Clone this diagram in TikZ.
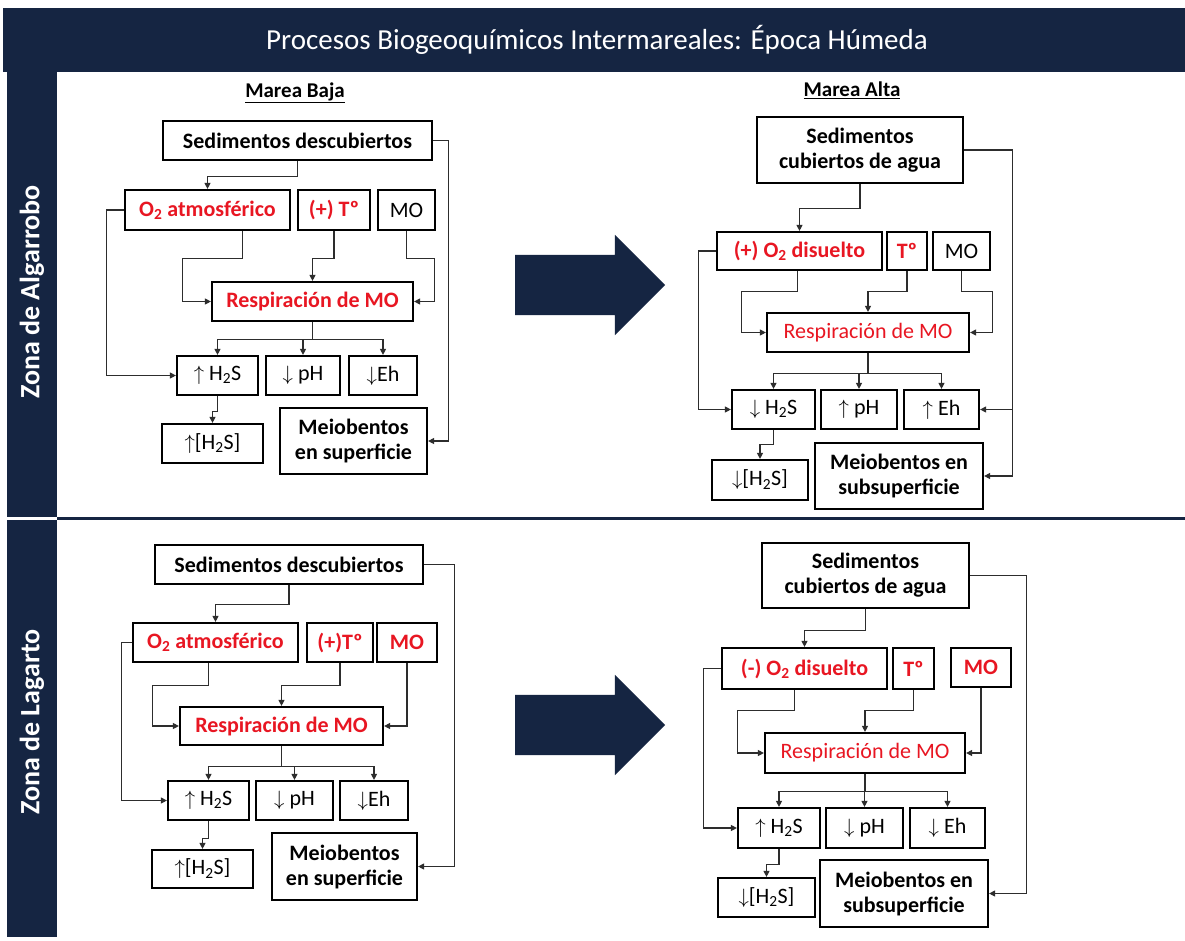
\documentclass[tikz,border=0pt]{standalone}
\usepackage{fontspec}
\setmainfont{Carlito}
\usetikzlibrary{arrows.meta,shapes.arrows}
\definecolor{navy}{RGB}{21,37,66}
\definecolor{alert}{RGB}{232,22,34}
\definecolor{linkgray}{RGB}{45,45,45}

\begin{document}
\begin{tikzpicture}[x=1pt,y=-1pt,
  boxplain/.style={rectangle,draw=black,line width=2.2pt,fill=white,inner sep=1pt,align=center,font=\fontsize{22}{25}\selectfont},
  boxbold/.style={boxplain,font=\fontsize{22}{25}\selectfont\bfseries},
  boxred/.style={boxbold,text=alert},
  boxredlight/.style={boxplain,text=alert},
  tidehead/.style={font=\fontsize{21}{24}\selectfont\bfseries},
  zonetext/.style={rotate=90,text=white,font=\fontsize{28}{30}\selectfont\bfseries},
  bigarrow/.style={single arrow,fill=navy,draw=none,inner xsep=0pt,inner ysep=30pt,minimum height=150pt,minimum width=100pt,single arrow head extend=20pt},
  link/.style={draw=linkgray,line width=1.1pt,-{Triangle[length=6pt,width=6pt]}}
]
\useasboundingbox (0,0) rectangle (1185,940);
\fill[white] (0,0) rectangle (1185,940);
\fill[navy] (3,8) rectangle (1185,72);
\fill[navy] (7,72) rectangle (57,517);
\fill[navy] (7,520) rectangle (57,937);
\draw[navy,line width=3pt] (57,518) -- (1185,518);
\node[text=white,font=\fontsize{29}{32}\selectfont] (title) at (597,40) {Procesos Biogeoquímicos Intermareales: Época Húmeda};
\node[zonetext] (zoneAlg) at (32,292) {Zona de Algarrobo};
\node[zonetext] (zoneLag) at (32,722) {Zona de Lagarto};
\node[tidehead] (headBaja) at (295,93) {\underline{Marea Baja}};
\node[tidehead] (headAlta) at (852,90) {\underline{Marea Alta}};
\node[bigarrow] (shiftAlg) at (575,285) {};
\node[bigarrow] (shiftLag) at (575,725) {};

\node[boxbold,minimum width=269,minimum height=39] (abSed) at (297.5,140.5) {Sedimentos descubiertos};
\node[boxred,minimum width=165,minimum height=40] (abO2) at (207.5,210) {O\textsubscript{2} atmosférico};
\node[boxred,minimum width=72,minimum height=40] (abT) at (334,210) {(+) Tº};
\node[boxplain,minimum width=57,minimum height=40] (abMO) at (406.5,210) {MO};
\node[boxred,minimum width=201,minimum height=39] (abResp) at (312.5,301.5) {Respiración de MO};
\node[boxplain,minimum width=81,minimum height=39] (abH2S) at (217.5,375.5) {$\uparrow$ H\textsubscript{2}S};
\node[boxplain,minimum width=74,minimum height=39] (abPH) at (303,375.5) {$\downarrow$ pH};
\node[boxplain,minimum width=68,minimum height=39] (abEh) at (383,375.5) {$\downarrow$Eh};
\node[boxplain,minimum width=101,minimum height=39] (abCH) at (212.5,443.5) {$\uparrow$[H\textsubscript{2}S]};
\node[boxbold,minimum width=147,minimum height=66] (abMeio) at (353.5,441) {Meiobentos\\en superficie};
\draw[link] (abSed.south) -- ++(0,15) -| (abO2.north);
\draw[link] (abSed.east) -- ++(15,0) |- (abMeio.east);
\draw[link] (abO2.west) -- ++(-17,0) |- (abH2S.west);
\draw[link] ([xshift=35pt]abO2.south) -- ++(0,27) -- ++(-60,0) |- (abResp.west);
\draw[link] (abT.south) -- ++(0,27) -| (abResp.north);
\draw[link] (abMO.south) -- ++(0,27) -- ++(28,0) |- (abResp.east);
\draw[link] (abResp.south) -- ++(0,17) coordinate (abFan) -| (abH2S.north);
\draw[link] (abFan) -| (abPH.north);
\draw[link] (abFan) -| (abEh.north);
\draw[link] (abH2S.south) -- ++(0,15) -| (abCH.north);

\node[boxbold,minimum width=206,minimum height=66] (aaSed) at (860,150) {Sedimentos\\cubiertos de agua};
\node[boxred,minimum width=165,minimum height=38] (aaO2) at (799.5,251) {(+) O\textsubscript{2} disuelto};
\node[boxred,minimum width=40,minimum height=38] (aaT) at (907,251) {Tº};
\node[boxplain,minimum width=57,minimum height=38] (aaMO) at (961.5,251) {MO};
\node[boxredlight,minimum width=202,minimum height=39] (aaResp) at (868,332.5) {Respiración de MO};
\node[boxplain,minimum width=83,minimum height=39] (aaH2S) at (773.5,409.5) {$\downarrow$ H\textsubscript{2}S};
\node[boxplain,minimum width=76,minimum height=39] (aaPH) at (859,409.5) {$\uparrow$ pH};
\node[boxplain,minimum width=75,minimum height=39] (aaEh) at (941.5,409.5) {$\uparrow$ Eh};
\node[boxplain,minimum width=96,minimum height=40] (aaCH) at (760,480) {$\downarrow$[H\textsubscript{2}S]};
\node[boxbold,minimum width=168,minimum height=66] (aaMeio) at (899,476) {Meiobentos en\\subsuperficie};
\draw[link] (aaSed.south) -- ++(0,24) -| (aaO2.north);
\draw[link] (aaSed.east) -- ++(48,0) coordinate (aaRight) |- (aaMeio.east);
\draw[link] (aaRight) |- (aaEh.east);
\draw[link] (aaO2.west) -- ++(-17,0) |- (aaH2S.west);
\draw[link] ([xshift=-2pt]aaO2.south) -- ++(0,20) -- ++(-56,0) |- (aaResp.west);
\draw[link] (aaT.south) -- ++(0,20) -| (aaResp.north);
\draw[link] (aaMO.south) -- ++(0,20) -- ++(31,0) |- (aaResp.east);
\draw[link] (aaResp.south) -- ++(0,20) coordinate (aaFan) -| (aaH2S.north);
\draw[link] (aaFan) -| (aaPH.north);
\draw[link] (aaFan) -| (aaEh.north);
\draw[link] (aaH2S.south) -- ++(0,14) -| (aaCH.north);

\node[boxbold,minimum width=268,minimum height=39] (lbSed) at (289,564.5) {Sedimentos descubiertos};
\node[boxred,minimum width=165,minimum height=39] (lbO2) at (215.5,642.5) {O\textsubscript{2} atmosférico};
\node[boxred,minimum width=66,minimum height=39] (lbT) at (340,642.5) {(+)Tº};
\node[boxred,minimum width=60,minimum height=39] (lbMO) at (407,642.5) {MO};
\node[boxred,minimum width=203,minimum height=38] (lbResp) at (281.5,726) {Respiración de MO};
\node[boxplain,minimum width=81,minimum height=39] (lbH2S) at (208.5,800.5) {$\uparrow$ H\textsubscript{2}S};
\node[boxplain,minimum width=77,minimum height=39] (lbPH) at (294.5,800.5) {$\downarrow$ pH};
\node[boxplain,minimum width=68,minimum height=39] (lbEh) at (374,800.5) {$\downarrow$Eh};
\node[boxplain,minimum width=101,minimum height=38] (lbCH) at (202.5,869) {$\uparrow$[H\textsubscript{2}S]};
\node[boxbold,minimum width=145,minimum height=67] (lbMeio) at (344.5,866.5) {Meiobentos\\en superficie};
\draw[link] (lbSed.south) -- ++(0,19) -| (lbO2.north);
\draw[link] (lbSed.east) -- ++(30,0) |- (lbMeio.east);
\draw[link] (lbO2.west) -- ++(-10,0) |- (lbH2S.west);
\draw[link] ([xshift=-7pt]lbO2.south) -- ++(0,22) -- ++(-56,0) |- (lbResp.west);
\draw[link] (lbT.south) -- ++(0,22) -| (lbResp.north);
\draw[link] (lbMO.south) |- (lbResp.east);
\draw[link] (lbResp.south) -- ++(0,20) coordinate (lbFan) -| (lbH2S.north);
\draw[link] (lbFan) -| (lbPH.north);
\draw[link] (lbFan) -| (lbEh.north);
\draw[link] (lbH2S.south) -- ++(0,17) -| (lbCH.north);

\node[boxbold,minimum width=207,minimum height=65] (laSed) at (865.5,575.5) {Sedimentos\\cubiertos de agua};
\node[boxred,minimum width=165,minimum height=41] (laO2) at (804.5,668.5) {(-) O\textsubscript{2} disuelto};
\node[boxred,minimum width=41,minimum height=41] (laT) at (913.5,668.5) {Tº};
\node[boxred,minimum width=60,minimum height=39] (laMO) at (981,667.5) {MO};
\node[boxredlight,minimum width=200,minimum height=40] (laResp) at (865,753) {Respiración de MO};
\node[boxplain,minimum width=82,minimum height=40] (laH2S) at (779,828) {$\uparrow$ H\textsubscript{2}S};
\node[boxplain,minimum width=77,minimum height=40] (laPH) at (864.5,828) {$\downarrow$ pH};
\node[boxplain,minimum width=75,minimum height=40] (laEh) at (947.5,828) {$\downarrow$ Eh};
\node[boxplain,minimum width=97,minimum height=39] (laCH) at (766.5,897.5) {$\downarrow$[H\textsubscript{2}S]};
\node[boxbold,minimum width=168,minimum height=67] (laMeio) at (904,893.5) {Meiobentos en\\subsuperficie};
\draw[link] (laSed.south) -- ++(0,21) -| (laO2.north);
\draw[link] (laSed.east) -- ++(56,0) |- (laMeio.east);
\draw[link] (laO2.west) -- ++(-17,0) |- (laH2S.west);
\draw[link] ([xshift=-10pt]laO2.south) -- ++(0,20) -- ++(-57,0) |- (laResp.west);
\draw[link] (laT.south) -- ++(0,20) -| (laResp.north);
\draw[link] (laMO.south) |- (laResp.east);
\draw[link] (laResp.south) -- ++(0,17) coordinate (laFan) -| (laH2S.north);
\draw[link] (laFan) -| (laPH.north);
\draw[link] (laFan) -| (laEh.north);
\draw[link] (laH2S.south) -- ++(0,15) -| (laCH.north);
\end{tikzpicture}
\end{document}
